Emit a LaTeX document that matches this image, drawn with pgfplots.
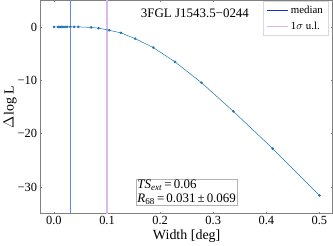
\documentclass[border=0pt]{standalone}
\usepackage{fontspec}
\setmainfont{Liberation Serif}
\usepackage{pgfplots}
\pgfplotsset{compat=1.18}
\definecolor{CZero}{RGB}{31,119,180}
\definecolor{MedLine}{RGB}{100,135,245}
\definecolor{MedLeg}{RGB}{20,50,200}
\definecolor{ULine}{RGB}{218,185,240}
\begin{document}
\begin{tikzpicture}
\begin{axis}[
  scale only axis,
  width=282pt, height=206pt,
  xmin=-0.025, xmax=0.525,
  ymin=-35, ymax=5,
  xtick={0,0.1,0.2,0.3,0.4,0.5},
  xticklabels={0.0,0.1,0.2,0.3,0.4,0.5},
  ytick={-30,-20,-10,0},
  yticklabels={−30,−20,−10,0},
  tick align=inside,
  major tick length=1.5pt,
  axis line style={gray, line width=0.6pt},
  every tick/.style={gray, line width=0.5pt},
  tick label style={font=\fontsize{12}{13}\selectfont, black},
  xticklabel style={yshift=1pt},
  xlabel={Width [deg]},
  ylabel={$\Delta$log L},
  label style={font=\fontsize{13.5}{14}\selectfont},
  xlabel style={yshift=2pt},
  ylabel style={yshift=-6pt},
  legend style={at={(0.985,0.995)}, anchor=north east, font=\fontsize{10.5}{11}\selectfont,
     draw=gray!30, line width=0.4pt, inner xsep=3pt, inner ysep=2pt, row sep=3pt, cells={anchor=west}},
  legend image code/.code={\draw[#1] (0pt,0pt) -- (20pt,0pt);},
  legend cell align=left,
  clip=true,
]
\addlegendimage{color=MedLeg, line width=0.7pt}
\addlegendentry{median}
\addlegendimage{color=ULine, line width=1.5pt}
\addlegendentry{1$\sigma$ u.l.}
\addplot[color=MedLine, line width=0.6pt, forget plot] coordinates {(0.031,-40) (0.031,10)};
\addplot[color=ULine, line width=1.5pt, forget plot] coordinates {(0.1,-40) (0.1,10)};
\addplot[color=CZero, line width=0.5pt, mark=*, mark size=1pt, mark options={fill=CZero, draw=CZero}, forget plot] coordinates {
(0,0)
(0.0077,0.002)
(0.0094,0.003)
(0.0115,0.005)
(0.014,0.008)
(0.017,0.012)
(0.021,0.018)
(0.025,0.024)
(0.031,0.03)
(0.038,0.028)
(0.046,0.015)
(0.070,-0.08)
(0.084,-0.22)
(0.104,-0.62)
(0.126,-1.1)
(0.153,-2.18)
(0.187,-3.85)
(0.228,-6.54)
(0.278,-10.45)
(0.338,-15.83)
(0.412,-22.8)
(0.5,-31.6)
};
\node[font=\fontsize{12.5}{13}\selectfont, anchor=west] at (axis cs:0.157,2.5) {3FGL J1543.5−0244};
\node[draw=gray!60, line width=0.4pt, fill=white, anchor=south west, align=left, inner sep=1pt,
   font=\fontsize{12.5}{13.5}\selectfont] at (axis cs:0.155,-33.5)
   {\textit{TS}\textsubscript{\textit{ext}}$\,$=$\,$0.06\\ \textit{R}\textsubscript{68}$\,$=$\,$0.031$\,$±$\,$0.069};
\end{axis}
\end{tikzpicture}
\end{document}
